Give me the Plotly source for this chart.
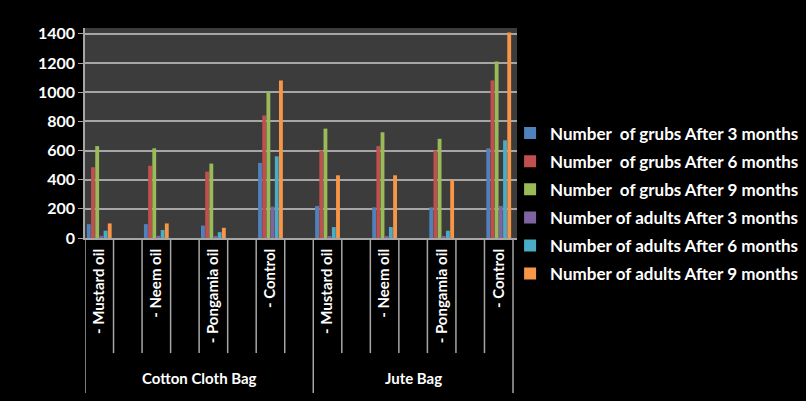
import plotly.graph_objects as go

groups = ["Cotton Cloth Bag", "Jute Bag"]
treatments = ["- Mustard oil", "- Neem oil", "- Pongamia oil", "- Control"]

series_names = [
    "Number  of grubs After 3 months",
    "Number  of grubs After 6 months",
    "Number  of grubs After 9 months",
    "Number of adults After 3 months",
    "Number of adults After 6 months",
    "Number of adults After 9 months",
]
colors = ["#4F81BD", "#C0504D", "#9BBB59", "#8064A2", "#4BACC6", "#F79646"]

# values: Cotton (Mustard, Neem, Pongamia, Control), Jute (Mustard, Neem, Pongamia, Control)
grubs_3 = [95, 95, 85, 515, 220, 210, 210, 615]
grubs_6 = [485, 495, 455, 840, 600, 630, 600, 1080]
grubs_9 = [630, 615, 510, 1000, 750, 725, 680, 1210]
adults_3 = [15, 15, 10, 215, 8, 8, 8, 220]
adults_6 = [50, 55, 40, 560, 75, 75, 50, 670]
adults_9 = [100, 100, 70, 1080, 430, 430, 400, 1410]
series_values = [grubs_3, grubs_6, grubs_9, adults_3, adults_6, adults_9]

y_ticks = [0, 200, 400, 600, 800, 1000, 1200, 1400]

# Build category slots: each treatment followed by an empty slot (last group has no trailing blank)
slots = []
slot_labels = []
bar_slots = []
group_spans = []
for gi, g in enumerate(groups):
    start = len(slots)
    for ti, t in enumerate(treatments):
        key = f"{g}|{t}"
        slots.append(key)
        slot_labels.append(t)
        bar_slots.append(key)
        if not (gi == len(groups) - 1 and ti == len(treatments) - 1):
            slots.append(f"{g}|blank{ti}")
            slot_labels.append(" ")
    group_spans.append((start, len(slots) - 1))

fig = go.Figure()
for name, col, vals in zip(series_names, colors, series_values):
    fig.add_trace(go.Bar(
        x=bar_slots, y=vals, name=name, marker_color=col,
        marker_line_width=0, legendgroup=name,
    ))

grid_col = "#a6a6a6"
font_main = "Lato"

shapes = []
n = len(slots)
group_edges = [s - 0.5 for s, e in group_spans] + [n - 0.5]
for b in range(n + 1):
    pos = b - 0.5
    is_group_edge = pos in group_edges
    shapes.append(dict(
        type="line", xref="x", yref="paper", x0=pos, x1=pos,
        y0=0, y1=-0.738 if is_group_edge else -0.548,
        line=dict(color=grid_col, width=1.5),
    ))

annotations = []
for g, (s, e) in zip(groups, group_spans):
    annotations.append(dict(
        text=g, x=(s + e) / 2, xref="x", yref="paper", y=-0.667,
        yanchor="middle", xanchor="center", showarrow=False,
        font=dict(color="white", size=15, family=font_main, weight="bold"),
    ))

fig.update_layout(
    width=806, height=401,
    margin=dict(l=85, r=289, t=28, b=163, autoexpand=False),
    paper_bgcolor="black", plot_bgcolor="#3c3c3c",
    barmode="group", bargap=0.12, bargroupgap=0.08,
    shapes=shapes, annotations=annotations,
    legend=dict(
        x=0.984, xanchor="left", y=0.583, yanchor="top",
        font=dict(color="white", size=17, family=font_main, weight="bold"),
        tracegroupgap=3, bgcolor="rgba(0,0,0,0)",
    ),
    showlegend=True,
)
fig.update_xaxes(
    type="category", categoryorder="array", categoryarray=slots,
    tickvals=slots, ticktext=slot_labels, range=[-0.5, n - 0.36],
    tickangle=-90, showgrid=False, showline=True, linecolor=grid_col, linewidth=1.5,
    ticks="", ticklabelstandoff=3, automargin=False,
    tickfont=dict(color="white", size=15, family=font_main, weight="bold"),
)
fig.update_yaxes(
    range=[0, 1440], tickvals=y_ticks, showgrid=True, gridcolor=grid_col, gridwidth=1.5,
    showline=True, linecolor=grid_col, linewidth=1.5, ticks="outside", ticklen=5,
    tickcolor=grid_col, zeroline=False, automargin=False,
    tickfont=dict(color="white", size=16, family=font_main, weight="bold"),
)

fig.write_html("out.html")
